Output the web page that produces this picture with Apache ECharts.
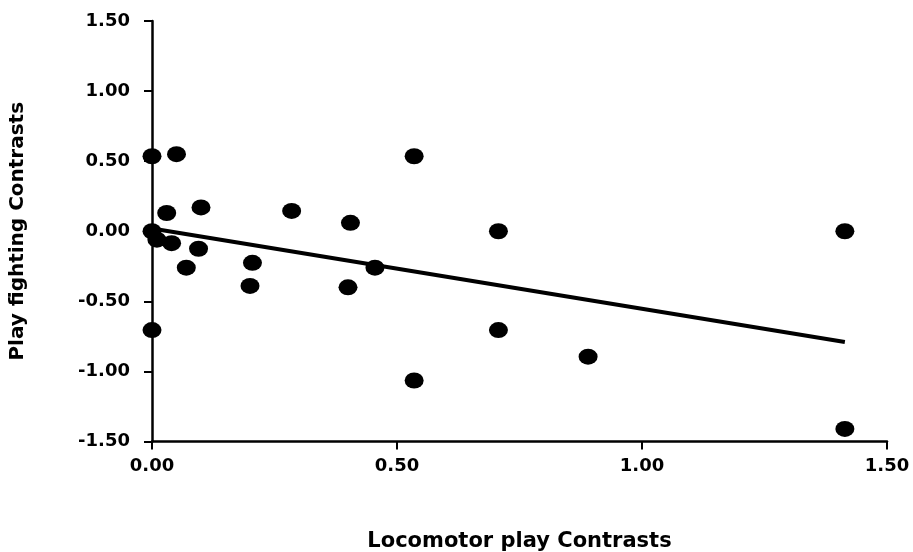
<!DOCTYPE html>
<html>
<head>
<meta charset="utf-8">
<script src="https://cdn.jsdelivr.net/npm/echarts@6/dist/echarts.min.js"></script>
<style>
  html, body { margin: 0; padding: 0; background: #fff; }
  #chart { width: 913px; height: 552px; }
</style>
</head>
<body>
<div id="chart"></div>
<script>
  // contrasts
  var locomotor = [0, 0.05, 0.535, 0, 0.03, 0.10, 0.285, 0.405, 0.707, 1.414, 0.01, 0.04,
    0.095, 0.07, 0.205, 0.20, 0.40, 0.455, 0, 0.707, 0.89, 0.535, 1.414];
  var playFighting = [0.535, 0.55, 0.535, 0.0, 0.13, 0.17, 0.145, 0.06, 0.0, 0.0, -0.06, -0.085,
    -0.125, -0.26, -0.225, -0.39, -0.40, -0.26, -0.705, -0.705, -0.895, -1.065, -1.41];
  // fitted line, two ends
  var trendX = [0, 1.414];
  var trendY = [0.02, -0.79];

  var xTicks = [0, 0.5, 1.0, 1.5];
  var yTicks = [-1.5, -1.0, -0.5, 0, 0.5, 1.0, 1.5];

  var points = locomotor.map(function (x, i) { return [x, playFighting[i]]; });
  var trend = trendX.map(function (x, i) { return [x, trendY[i]]; });

  var font = 'DejaVu Sans';
  var chart = echarts.init(document.getElementById('chart'));

  var option = {
    animation: false,
    backgroundColor: '#fff',
    grid: { left: 152, right: 26, top: 21, bottom: 110.5, outerBoundsMode: 'none' },
    xAxis: {
      type: 'value',
      min: xTicks[0],
      max: xTicks[xTicks.length - 1],
      interval: 0.5,
      name: 'Locomotor play Contrasts',
      nameLocation: 'middle',
      nameGap: 90,
      nameTextStyle: { fontFamily: font, fontWeight: 'bold', fontSize: 21, color: '#000' },
      axisLine: { onZero: false, lineStyle: { color: '#000', width: 2.5 } },
      axisTick: { length: 8, lineStyle: { color: '#000', width: 2 } },
      axisLabel: {
        margin: 16,
        fontFamily: font, fontWeight: 'bold', fontSize: 18, color: '#000',
        formatter: function (v) { return v.toFixed(2); }
      },
      splitLine: { show: false }
    },
    yAxis: {
      type: 'value',
      min: yTicks[0],
      max: yTicks[yTicks.length - 1],
      interval: 0.5,
      name: 'Play fighting Contrasts',
      nameLocation: 'middle',
      nameGap: 124,
      nameTextStyle: { fontFamily: font, fontWeight: 'bold', fontSize: 20, color: '#000' },
      axisLine: { onZero: false, lineStyle: { color: '#000', width: 2.5 } },
      axisTick: { length: 8, lineStyle: { color: '#000', width: 2 } },
      axisLabel: {
        margin: 22,
        fontFamily: font, fontWeight: 'bold', fontSize: 18, color: '#000',
        formatter: function (v) { return v.toFixed(2); }
      },
      splitLine: { show: false }
    },
    series: [
      {
        name: 'trend',
        type: 'line',
        data: trend,
        symbol: 'none',
        lineStyle: { color: '#000', width: 4 },
        z: 2
      },
      {
        name: 'contrasts',
        type: 'scatter',
        data: points,
        symbol: 'circle',
        symbolSize: [19, 16],
        itemStyle: { color: '#000', opacity: 1 },
        z: 3
      }
    ]
  };

  chart.setOption(option);
</script>
</body>
</html>
